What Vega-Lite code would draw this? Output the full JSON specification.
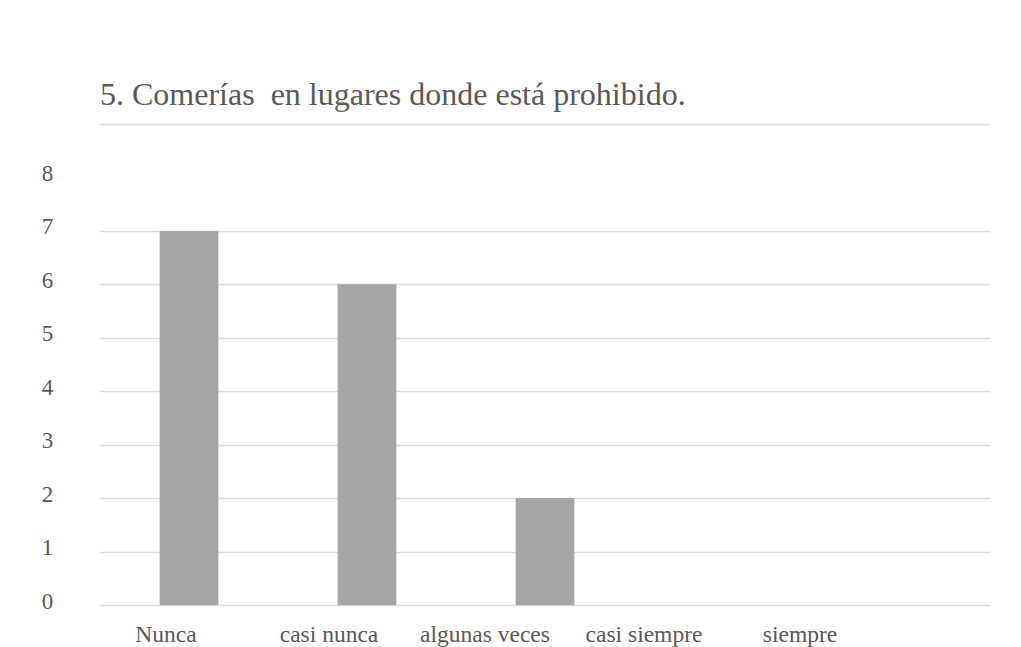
{
  "$schema": "https://vega.github.io/schema/vega-lite/v6.json",
  "autosize": {"type": "none"},
  "width": 890,
  "height": 481,
  "padding": {"left": 100, "top": 124, "right": 31, "bottom": 42},
  "background": "white",
  "title": {
    "text": "5. Comerías\u00a0 en lugares donde está prohibido.",
    "anchor": "start",
    "frame": "group",
    "font": "Liberation Serif",
    "fontSize": 32,
    "fontWeight": "normal",
    "color": "#595959",
    "offset": 12
  },
  "data": {
    "values": [
      {"categoria": "Nunca", "valor": 7},
      {"categoria": "casi nunca", "valor": 6},
      {"categoria": "algunas veces", "valor": 2},
      {"categoria": "casi siempre", "valor": 0},
      {"categoria": "siempre", "valor": 0}
    ]
  },
  "mark": {"type": "bar", "color": "#a5a5a5"},
  "encoding": {
    "x": {
      "field": "categoria",
      "type": "nominal",
      "sort": null,
      "scale": {"paddingInner": 0.67, "paddingOuter": 0.335},
      "axis": {
        "title": null,
        "domain": false,
        "ticks": false,
        "tickSize": 0,
        "labelAngle": 0,
        "labelFont": "Liberation Serif",
        "labelFontSize": 23.5,
        "labelColor": "#595959",
        "labelBaseline": "top",
        "labelPadding": 17,
        "labelOffset": {"expr": "datum.value == 'Nunca' ? -23 : datum.value == 'casi nunca' ? -38 : datum.value == 'algunas veces' ? -60 : datum.value == 'casi siempre' ? -79 : -101"},
        "grid": false
      }
    },
    "y": {
      "field": "valor",
      "type": "quantitative",
      "scale": {"domain": [0, 9], "nice": false},
      "axis": {
        "title": null,
        "domain": false,
        "ticks": false,
        "tickSize": 0,
        "values": [0, 1, 2, 3, 4, 5, 6, 7, 8, 9],
        "labelExpr": "datum.value == 9 ? '' : datum.label",
        "labelFont": "Liberation Serif",
        "labelFontSize": 23,
        "labelColor": "#595959",
        "labelAlign": "center",
        "labelBaseline": "middle",
        "labelPadding": 53,
        "labelOffset": -4,
        "grid": true,
        "gridColor": {"condition": {"test": "datum.value == 8", "value": "transparent"}, "value": "#d9d9d9"},
        "gridWidth": 1.5
      }
    }
  },
  "config": {
    "view": {"stroke": null},
    "font": "Liberation Serif",
    "title": {"font": "Liberation Serif", "fontWeight": "normal"}
  }
}
